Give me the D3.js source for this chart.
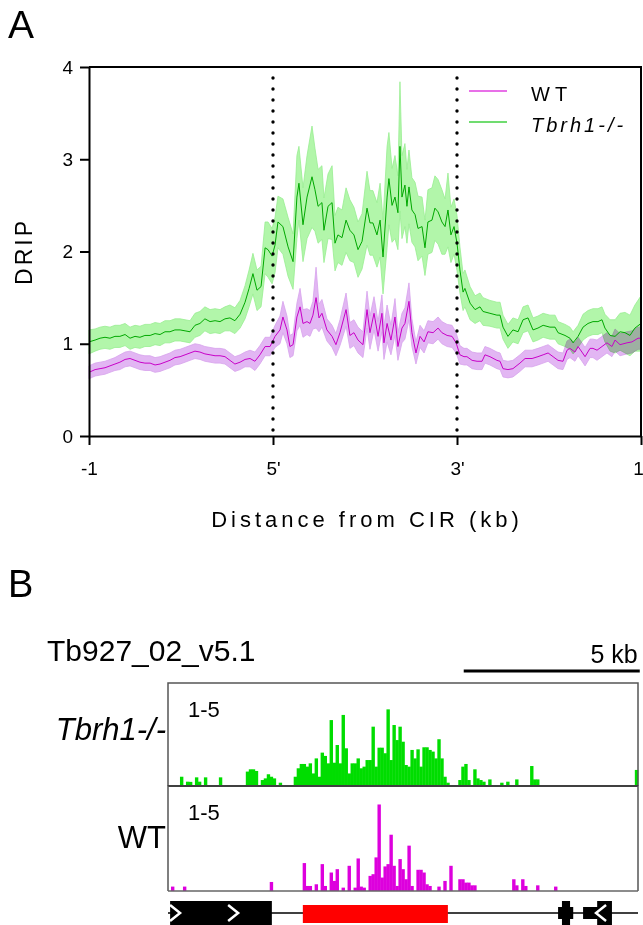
<!DOCTYPE html>
<html><head><meta charset="utf-8">
<script src="https://cdn.jsdelivr.net/npm/d3@7"></script>
<style>
body{margin:0;background:#fff;}
svg text{font-family:"Liberation Sans",Arial,sans-serif;fill:#000;}
</style></head><body>
<svg id="c" width="643" height="925"></svg>
<script>
// ---------- Panel A data (position 0..300: -1kb .. 5' (100) .. 3' (200) .. +1kb (300)) ----------
const xTickValues = [0, 100, 200, 300];
const xTickLabels = ["-1", "5'", "3'", "1"];
const yTicks = [0, 1, 2, 3, 4];
const cirMarks = [100, 200];

const koPos = [0,3.3,6.0,8.7,11.4,14.1,16.8,19.6,22.3,25.0,27.7,30.4,33.2,35.9,38.6,41.3,44.0,46.7,49.5,52.2,54.9,57.6,60.3,63.0,65.8,68.5,71.2,73.9,76.6,79.3,82.1,84.8,87.0,89.1,91.3,93.5,95.7,97.3,99.5,101.1,102.7,105.4,108.2,110.9,113.0,114.1,116.3,118.5,121.2,122.8,124.5,126.6,127.7,129.9,132.1,133.7,135.3,137.5,139.7,141.8,144.0,146.2,148.4,151.1,152.7,154.3,156.5,158.2,159.8,162.0,163.0,164.7,166.3,167.9,169.0,170.1,171.7,172.8,173.9,175.5,177.2,178.8,181.0,182.6,184.2,186.4,188.0,189.7,191.8,193.5,195.1,196.7,198.4,200.0,201.6,203.3,204.3,207.1,209.8,212.5,214.1,217.9,221.7,223.4,225.0,227.7,230.4,233.2,235.9,238.6,241.3,244.0,246.8,250.5,253.3,254.9,258.7,261.4,263.1,265.8,268.5,271.2,273.9,276.6,278.8,280.4,283.2,285.9,288.6,291.3,294.0,296.7,300.0];
const koMean = [1.02,1.04,1.06,1.07,1.06,1.08,1.08,1.10,1.06,1.08,1.07,1.09,1.09,1.11,1.10,1.13,1.13,1.15,1.15,1.14,1.13,1.20,1.22,1.27,1.24,1.25,1.24,1.27,1.28,1.25,1.32,1.45,1.60,1.76,1.58,1.62,2.04,2.02,1.95,2.07,2.32,2.27,2.05,1.89,2.59,2.74,2.29,2.59,2.81,2.67,2.49,2.53,2.23,2.49,2.53,2.09,2.18,2.15,2.34,2.23,2.18,2.02,2.11,2.47,2.31,2.31,2.18,2.34,1.94,2.59,2.79,2.50,2.59,2.42,3.14,2.59,2.72,2.49,2.70,2.45,2.40,2.25,2.27,2.04,2.32,2.34,2.47,2.43,2.32,2.27,2.45,2.18,2.27,2.09,1.80,1.56,1.60,1.44,1.37,1.40,1.35,1.33,1.31,1.31,1.18,1.08,1.15,1.13,1.26,1.28,1.15,1.17,1.20,1.18,1.18,1.12,1.09,1.06,1.01,1.08,1.18,1.22,1.24,1.24,1.26,1.17,1.09,1.08,1.13,1.12,1.09,1.17,1.22];
const koSem = [0.13,0.12,0.12,0.12,0.12,0.12,0.12,0.12,0.12,0.12,0.12,0.12,0.12,0.12,0.12,0.12,0.12,0.12,0.12,0.12,0.12,0.13,0.13,0.13,0.13,0.13,0.13,0.13,0.14,0.14,0.15,0.18,0.20,0.22,0.22,0.22,0.28,0.30,0.30,0.30,0.28,0.30,0.32,0.30,0.45,0.40,0.40,0.45,0.55,0.45,0.40,0.40,0.35,0.35,0.40,0.30,0.30,0.30,0.35,0.33,0.30,0.30,0.30,0.40,0.35,0.35,0.35,0.40,0.40,0.55,0.50,0.40,0.45,0.40,0.70,0.45,0.45,0.40,0.40,0.35,0.35,0.35,0.32,0.30,0.35,0.35,0.35,0.35,0.35,0.30,0.40,0.30,0.30,0.30,0.25,0.20,0.20,0.18,0.15,0.15,0.15,0.14,0.14,0.14,0.13,0.13,0.13,0.13,0.14,0.14,0.13,0.13,0.13,0.13,0.13,0.12,0.12,0.12,0.12,0.12,0.14,0.14,0.14,0.14,0.14,0.15,0.17,0.18,0.20,0.22,0.22,0.25,0.30];

const wtPos = [0,3.3,6.0,8.7,11.4,14.1,16.8,19.6,22.3,25.0,27.7,30.4,33.2,35.9,38.6,41.3,44.0,46.7,49.5,52.2,54.9,57.6,60.3,63.0,65.8,68.5,71.2,73.9,76.6,79.3,82.1,84.8,87.5,90.2,92.9,95.7,98.4,101.1,103.8,105.4,107.6,109.2,110.9,113.0,114.7,116.3,118.5,120.1,121.7,123.4,125.0,126.6,129.3,132.1,134.2,136.4,139.7,141.8,144.0,146.2,148.9,151.1,152.7,154.9,157.1,159.2,160.3,162.0,164.1,166.3,167.9,170.1,171.7,173.9,175.5,177.7,179.9,182.1,184.2,187.0,189.7,191.8,194.6,197.3,199.5,201.6,203.8,205.4,208.2,210.9,213.6,215.2,217.9,221.7,223.4,225.0,227.7,230.4,234.2,237.0,240.8,244.0,246.8,249.5,252.2,254.9,257.6,259.8,261.4,264.1,265.8,267.9,269.6,272.3,273.9,276.1,278.8,281.5,284.2,285.9,288.6,292.4,295.1,298.4,300.0];
const wtMean = [0.69,0.72,0.73,0.74,0.76,0.78,0.80,0.83,0.84,0.82,0.80,0.79,0.79,0.77,0.78,0.80,0.82,0.85,0.86,0.88,0.90,0.92,0.91,0.89,0.88,0.87,0.87,0.86,0.82,0.78,0.80,0.83,0.84,0.81,0.88,0.97,0.97,1.08,1.15,1.29,1.15,0.97,0.99,1.29,1.40,1.22,1.24,1.22,1.31,1.50,1.28,1.33,1.15,1.08,0.99,1.12,1.37,1.09,1.12,1.04,0.99,1.37,1.12,1.33,1.08,1.33,1.01,1.22,1.04,1.29,0.97,1.17,1.22,1.46,1.12,0.90,1.08,1.02,1.13,1.12,1.17,1.12,1.09,1.08,1.01,0.88,0.86,0.86,0.82,0.81,0.81,0.88,0.86,0.82,0.81,0.73,0.72,0.73,0.79,0.84,0.84,0.86,0.88,0.90,0.86,0.82,0.81,0.93,0.95,0.91,0.97,0.91,0.86,0.95,0.95,0.93,0.97,1.01,0.97,1.04,0.99,1.01,1.02,1.06,1.06];
const wtSem = [0.07,0.07,0.07,0.07,0.07,0.07,0.08,0.08,0.08,0.08,0.08,0.08,0.08,0.08,0.08,0.08,0.08,0.08,0.08,0.08,0.08,0.08,0.08,0.08,0.08,0.08,0.08,0.08,0.08,0.08,0.08,0.08,0.09,0.10,0.10,0.10,0.10,0.12,0.15,0.17,0.15,0.12,0.12,0.15,0.20,0.15,0.14,0.14,0.15,0.33,0.15,0.15,0.12,0.12,0.12,0.14,0.18,0.14,0.14,0.14,0.14,0.20,0.18,0.18,0.16,0.20,0.18,0.20,0.16,0.20,0.15,0.16,0.17,0.20,0.15,0.12,0.12,0.12,0.12,0.12,0.12,0.12,0.12,0.12,0.11,0.10,0.09,0.09,0.09,0.09,0.09,0.09,0.09,0.09,0.09,0.09,0.09,0.09,0.09,0.09,0.09,0.09,0.09,0.09,0.09,0.09,0.09,0.10,0.10,0.10,0.10,0.10,0.10,0.10,0.10,0.11,0.11,0.11,0.11,0.12,0.12,0.12,0.12,0.12,0.12];

const seriesNames = ["WT", "Tbrh1-/-"];

// ---------- Panel B data (bins of 0.085 kb along a 13.35 kb window, track range 1-5) ----------
const binKb = 0.085;
const windowKb = 13.35;
const trackRange = [0, 5];
const koBin = [4,6,7,9,10,12,17,26,27,28,29,31,32,33,34,35,37,42,43,44,45,46,47,48,49,50,51,52,53,54,55,56,57,58,59,60,61,62,63,64,65,66,67,68,69,70,71,72,73,74,75,76,77,78,79,80,81,82,83,84,85,86,87,88,89,90,91,92,93,97,98,99,100,102,103,104,105,107,111,113,116,121,122,123,156];
const koVal = [0.45,0.21,0.20,0.42,0.21,0.42,0.42,0.70,0.81,0.81,0.73,0.29,0.37,0.57,0.45,0.37,0.16,0.45,0.86,1.07,1.07,0.94,1.10,0.61,1.34,0.45,1.62,1.46,1.10,3.20,1.13,1.99,1.10,3.45,1.83,0.61,1.10,1.10,1.34,0.86,0.94,1.26,1.26,2.88,0.94,1.86,1.86,1.59,3.72,1.26,2.96,2.23,2.88,2.15,1.02,0.94,1.75,1.34,1.78,0.94,1.88,1.88,1.75,1.67,1.34,2.27,1.34,0.45,0.16,0.29,0.94,1.07,0.29,0.81,0.37,0.29,0.21,0.32,0.16,0.21,0.32,0.97,0.32,0.32,0.78];
const wtBin = [1,5,34,45,46,47,49,51,52,54,55,56,58,60,62,63,64,65,67,68,69,70,71,72,73,74,75,76,77,78,79,80,81,83,84,85,86,87,90,92,94,97,98,99,100,101,102,115,116,118,119,123,129];
const wtVal = [0.21,0.21,0.43,1.33,0.24,0.24,0.32,1.28,0.24,0.88,0.48,1.04,0.16,1.20,0.16,1.55,0.21,0.16,0.72,0.80,1.60,4.12,0.64,1.17,1.28,2.68,1.20,0.24,1.52,1.04,0.56,2.16,0.24,1.01,1.01,0.88,0.32,0.24,0.21,0.48,1.20,0.56,0.56,0.40,0.40,0.27,0.27,0.56,0.27,0.56,0.24,0.27,0.21];

// gene annotation (kb)
const geneStart = [0.06, 3.83, 11.08, 11.19, 11.79, 12.19];
const geneEnd   = [2.95, 7.95, 11.51, 11.42, 12.27, 12.61];
const geneKind  = ["tall", "red", "mid", "tall", "mid", "tall"];
const chevronKb = [0.20, 1.85, 12.30];
const chevronDir = [1, 1, -1];
const scaleBarKb = [8.40, 13.40];
const scaleBarLabel = "5 kb";
const chromName = "Tb927_02_v5.1";
const trackLabels = ["Tbrh1-/-", "WT"];
const trackScaleLabel = "1-5";

// ---------- drawing ----------
const svg = d3.select("#c");
const FONT = '"Liberation Sans", Arial, sans-serif';

const x = d3.scaleLinear().domain([0, 300]).range([89, 641]);
const y = d3.scaleLinear().domain([0, 4]).range([436, 67]);

svg.append("text").attr("x", 8).attr("y", 38).attr("font-size", 39).text("A");
svg.append("text").attr("x", 8).attr("y", 597).attr("font-size", 38).text("B");

const gA = svg.append("g");

function bandPath(pos, mean, sem) {
  return d3.area()
    .x((d, i) => x(pos[i]))
    .y0((d, i) => y(mean[i] - sem[i]))
    .y1((d, i) => y(mean[i] + sem[i]))(mean);
}
function linePath(pos, mean) {
  return d3.line().x((d, i) => x(pos[i])).y(d => y(d))(mean);
}

gA.append("path").attr("d", bandPath(wtPos, wtMean, wtSem))
  .attr("fill", "#e2b6f3").attr("stroke", "#d7a2ec").attr("stroke-width", 0.8)
  .style("mix-blend-mode", "multiply");
gA.append("path").attr("d", bandPath(koPos, koMean, koSem))
  .attr("fill", "#b2f6aa").attr("stroke", "#98ee90").attr("stroke-width", 0.8)
  .style("mix-blend-mode", "multiply");
gA.append("path").attr("d", linePath(wtPos, wtMean))
  .attr("fill", "none").attr("stroke", "#c800c8").attr("stroke-width", 1);
gA.append("path").attr("d", linePath(koPos, koMean))
  .attr("fill", "none").attr("stroke", "#00a800").attr("stroke-width", 1);

// dotted CIR boundaries
gA.selectAll("line.cir").data(cirMarks).join("line")
  .attr("x1", d => x(d)).attr("x2", d => x(d))
  .attr("y1", y(4) + 11).attr("y2", y(0))
  .attr("stroke", "#000").attr("stroke-width", 3.4)
  .attr("stroke-linecap", "round").attr("stroke-dasharray", "0 11");

// axes
const yAxis = d3.axisLeft(y).tickValues(yTicks).tickFormat(d3.format("d"))
  .tickSize(9).tickPadding(7).tickSizeOuter(0);
gA.append("g").attr("transform", `translate(${x(0)},0)`).call(yAxis)
  .attr("font-size", 19).attr("font-family", FONT)
  .call(g => {
    g.select(".domain").attr("stroke-width", 2);
    g.selectAll(".tick line").attr("stroke-width", 2);
  });
const xAxis = d3.axisBottom(x).tickValues(xTickValues)
  .tickFormat((d, i) => xTickLabels[i]).tickSize(9).tickPadding(17).tickSizeOuter(0);
gA.append("g").attr("transform", `translate(0,${y(0)})`).call(xAxis)
  .attr("font-size", 19).attr("font-family", FONT)
  .call(g => {
    g.select(".domain").attr("stroke-width", 2);
    g.selectAll(".tick line").attr("stroke-width", 2);
    g.selectAll(".tick text").filter(d => d === 300).attr("dx", -3);
  });
// frame top/right
gA.append("path")
  .attr("d", `M${x(0)},${y(4)}H${x(300)}V${y(0)}`)
  .attr("fill", "none").attr("stroke", "#000").attr("stroke-width", 2);

// axis titles
gA.append("text").attr("transform", `translate(32,${(y(0) + y(4)) / 2}) rotate(-90)`)
  .attr("text-anchor", "middle").attr("font-size", 23).attr("letter-spacing", 3).text("DRIP");
gA.append("text").attr("x", (x(0) + x(300)) / 2 + 2).attr("y", 527)
  .attr("text-anchor", "middle").attr("font-size", 22).attr("letter-spacing", 4)
  .text("Distance from CIR (kb)");

// legend
const legColors = ["#e040e0", "#40d040"];
const leg = gA.append("g");
seriesNames.forEach((name, i) => {
  const ly = 91 + i * 31;
  leg.append("line").attr("x1", 469).attr("x2", 507).attr("y1", ly).attr("y2", ly)
    .attr("stroke", legColors[i]).attr("stroke-width", 1.5);
  leg.append("text").attr("x", 531).attr("y", ly + 10).attr("font-size", 20)
    .attr("letter-spacing", i === 0 ? 5 : 3)
    .attr("font-style", i === 1 ? "italic" : "normal")
    .text(name);
});

// ---------- Panel B ----------
const xb = d3.scaleLinear().domain([0, windowKb]).range([168, 638]);
const tracks = [
  {top: 683, bottom: 786, bins: koBin, vals: koVal, color: "#00dd00", label: trackLabels[0], italic: true, labelY: 740},
  {top: 786, bottom: 891, bins: wtBin, vals: wtVal, color: "#dd00dd", label: trackLabels[1], italic: false, labelY: 848}
];

svg.append("text").attr("x", 47).attr("y", 661).attr("font-size", 30).text(chromName);
svg.append("line").attr("x1", xb(scaleBarKb[0])).attr("x2", xb(scaleBarKb[1]))
  .attr("y1", 671).attr("y2", 671).attr("stroke", "#000").attr("stroke-width", 3);
svg.append("text").attr("x", xb(scaleBarKb[1]) - 2).attr("y", 663)
  .attr("text-anchor", "end").attr("font-size", 25).text(scaleBarLabel);

tracks.forEach((t, ti) => {
  const yt = d3.scaleLinear().domain(trackRange).range([t.bottom, t.top]);
  const g = svg.append("g");
  g.selectAll("rect").data(t.bins).join("rect")
    .attr("x", d => xb(d * binKb))
    .attr("width", d => xb((d + 1) * binKb) - xb(d * binKb) + 0.4)
    .attr("y", (d, i) => yt(t.vals[i]))
    .attr("height", (d, i) => yt(0) - yt(t.vals[i]))
    .attr("fill", t.color);
  // frame
  g.append("path")
    .attr("d", `M${xb(0)},${t.bottom}V${t.top}H${xb(windowKb)}V${t.bottom}`)
    .attr("fill", "none").attr("stroke", "#555").attr("stroke-width", 1.5);
  g.append("line").attr("x1", xb(0)).attr("x2", xb(windowKb))
    .attr("y1", t.bottom).attr("y2", t.bottom)
    .attr("stroke", ti === 0 ? "#000" : "#666").attr("stroke-width", ti === 0 ? 2 : 1.5);
  g.append("text").attr("x", 188).attr("y", t.top + 34).attr("font-size", 22).text(trackScaleLabel);
  g.append("text").attr("x", 166).attr("y", t.labelY)
    .attr("text-anchor", "end").attr("font-size", 31)
    .attr("font-style", t.italic ? "italic" : "normal").text(t.label);
});

// gene track
const gy = 913;
const gG = svg.append("g");
gG.append("line").attr("x1", xb(0)).attr("x2", xb(windowKb)).attr("y1", gy).attr("y2", gy)
  .attr("stroke", "#000").attr("stroke-width", 1.5);
const kindH = {tall: [-12, 13], mid: [-6, 6], red: [-8, 10]};
geneStart.forEach((s, i) => {
  const h = kindH[geneKind[i]];
  gG.append("rect").attr("x", xb(s)).attr("width", xb(geneEnd[i]) - xb(s))
    .attr("y", gy + h[0]).attr("height", h[1] - h[0])
    .attr("fill", geneKind[i] === "red" ? "#ff0000" : "#000");
});
chevronKb.forEach((c, i) => {
  const cx = xb(c), d = chevronDir[i];
  gG.append("path")
    .attr("d", `M${cx - 5 * d},${gy - 8}L${cx + 5 * d},${gy}L${cx - 5 * d},${gy + 8}`)
    .attr("fill", "none").attr("stroke", "#fff").attr("stroke-width", 2.5);
});
</script></body></html>
